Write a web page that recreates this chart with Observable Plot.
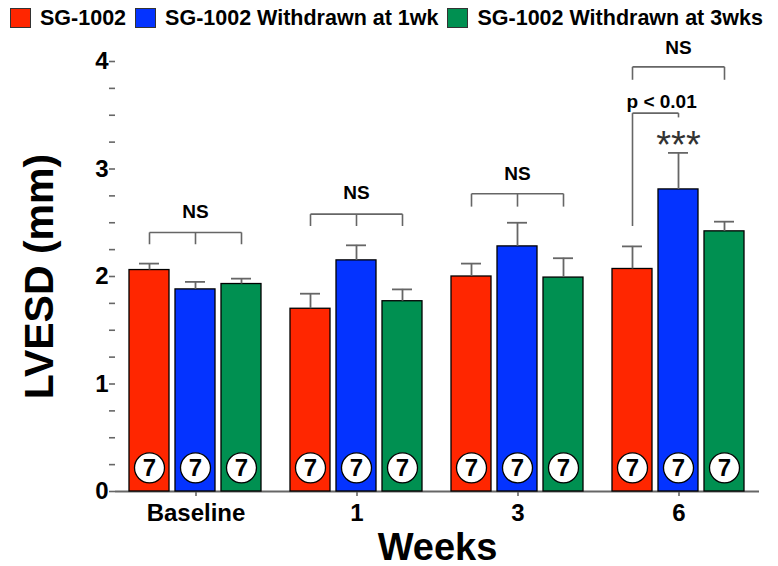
<!DOCTYPE html>
<html><head><meta charset="utf-8">
<script src="https://cdn.jsdelivr.net/npm/d3@7"></script>
<script src="https://cdn.jsdelivr.net/npm/@observablehq/plot@0.6"></script>
<style>
body{margin:0;background:#fff;font-family:"Liberation Sans",Arial,sans-serif;}
#legend{display:flex;align-items:center;height:36px;padding-left:10px;font-weight:bold;font-size:21.5px;color:#000;white-space:nowrap;}
#legend .item{display:flex;align-items:center;margin-right:9px;}
#legend .sw{width:21px;height:20px;border:1.5px solid #333;box-sizing:border-box;margin-right:9px;}
svg [aria-label="y-axis label"] text{font-size:41px;font-weight:bold;}
svg [aria-label="fx-axis label"] text{font-size:38px;font-weight:bold;}
</style></head><body>
<div id="legend"></div>
<div id="chart"></div>
<script>
// ---- data ----
const weeks = ["Baseline", "1", "3", "6"];
const series = ["SG-1002", "SG-1002 Withdrawn at 1wk", "SG-1002 Withdrawn at 3wks"];
const colors = ["#ff2600", "#0433ff", "#009051"];

const meanSG   = [2.06, 1.70, 2.00, 2.07];
const meanW1   = [1.88, 2.15, 2.28, 2.81];
const meanW3   = [1.93, 1.77, 1.99, 2.42];
const semSG    = [0.06, 0.14, 0.12, 0.21];
const semW1    = [0.07, 0.14, 0.22, 0.34];
const semW3    = [0.05, 0.11, 0.18, 0.09];
const nSG      = [7, 7, 7, 7];
const nW1      = [7, 7, 7, 7];
const nW3      = [7, 7, 7, 7];

// NS brackets (one per week)
const nsWeeks    = ["Baseline", "1", "3", "6"];
const nsLabels   = ["NS", "NS", "NS", "NS"];
const nsLevels   = [2.41, 2.58, 2.77, 3.95];
const nsLegEnds  = [2.30, 2.47, 2.65, 3.83];
const nsTextY    = [2.60, 2.78, 2.95, 4.13];
const nsLegs     = [[0, 1, 2], [0, 1, 2], [0, 1, 2], [0, 2]];

// p-value bracket (week 6, SG-1002 vs Withdrawn at 1wk)
const pWeek = "6";
const pLabel = "p < 0.01";
const pFrom = 0, pTo = 1;
const pLevel = 3.52;
const pLegEnds = [2.47, 3.48];
const pTextY = 3.62;
const starLabel = "***";
const starSeries = 1;
const starY = 3.22;

// ---- build tables ----
const means = [meanSG, meanW1, meanW3];
const sems = [semSG, semW1, semW3];
const ns = [nSG, nW1, nW3];
const rows = [];
series.forEach((s, si) => weeks.forEach((w, wi) => rows.push({
  week: w, series: s, mean: means[si][wi], upper: means[si][wi] + sems[si][wi], n: ns[si][wi]
})));

const segs = [];
const labels = [];
nsWeeks.forEach((w, i) => {
  const legs = nsLegs[i];
  segs.push({week: w, xa: series[legs[0]], xb: series[legs[legs.length - 1]], ya: nsLevels[i], yb: nsLevels[i]});
  legs.forEach(l => segs.push({week: w, xa: series[l], xb: series[l], ya: nsLegEnds[i], yb: nsLevels[i]}));
  labels.push({week: w, s: series[1], y: nsTextY[i], text: nsLabels[i]});
});
segs.push({week: pWeek, xa: series[pFrom], xb: series[pTo], ya: pLevel, yb: pLevel});
segs.push({week: pWeek, xa: series[pFrom], xb: series[pFrom], ya: pLegEnds[0], yb: pLevel});
segs.push({week: pWeek, xa: series[pTo], xb: series[pTo], ya: pLegEnds[1], yb: pLevel});

// legend
const lg = d3.select("#legend");
series.forEach((s, i) => {
  const it = lg.append("div").attr("class", "item");
  it.append("div").attr("class", "sw").style("background", colors[i]);
  it.append("span").text(s);
});

const badgeY = 0.22;
const grey = "#666";

const chart = Plot.plot({
  width: 778,
  height: 530,
  marginLeft: 113,
  marginRight: 18,
  marginTop: 25,
  marginBottom: 75,
  style: {fontFamily: "'Liberation Sans', Arial, sans-serif", fontWeight: "bold", color: "#000", background: "#fff"},
  fx: {domain: weeks, paddingInner: 0, paddingOuter: 0, label: null},
  x: {domain: series, paddingInner: 0.1277, paddingOuter: 0.2846, axis: null},
  y: {domain: [0, 4]},
  color: {domain: series, range: colors},
  marks: [
    Plot.ruleY([0], {stroke: grey, strokeWidth: 1.8}),
    Plot.axisY({
      ticks: d3.range(0, 4.001, 0.25),
      tickFormat: d => Number.isInteger(d) ? String(d) : "",
      tickSize: 6, tickPadding: 1, fontSize: 24, stroke: grey, strokeWidth: 1.6,
      line: true, label: "LVESD (mm)", labelAnchor: "center", labelArrow: "none", labelOffset: 92
    }),
    Plot.axisFx({
      anchor: "bottom", tickSize: 5, tickPadding: 7, fontSize: 24, stroke: grey, strokeWidth: 1.6,
      label: "Weeks", labelAnchor: "center", labelOffset: 68
    }),
    Plot.barY(rows, {fx: "week", x: "series", y: "mean", fill: "series", stroke: "#000", strokeWidth: 1.3}),
    Plot.ruleX(rows, {fx: "week", x: "series", y1: "mean", y2: "upper", stroke: grey, strokeWidth: 1.8}),
    Plot.tickY(rows, {fx: "week", x: "series", y: "upper", stroke: grey, strokeWidth: 1.8, insetLeft: 10, insetRight: 10}),
    Plot.dot(rows, {fx: "week", x: "series", y: () => badgeY, r: 15, fill: "white", stroke: "#000", strokeWidth: 1.3}),
    Plot.text(rows, {fx: "week", x: "series", y: () => badgeY, text: d => String(d.n), fontSize: 24, fontWeight: "bold", fill: "#000"}),
    Plot.link(segs, {fx: "week", x1: "xa", x2: "xb", y1: "ya", y2: "yb", stroke: grey, strokeWidth: 1.6}),
    Plot.text(labels, {fx: "week", x: "s", y: "y", text: "text", fontSize: 19, fontWeight: "bold", fill: "#000"}),
    Plot.text([pLabel], {fx: () => pWeek, x: () => series[pFrom], y: () => pTextY, text: d => d, textAnchor: "start", dx: -6, fontSize: 19, fontWeight: "bold", fill: "#000"}),
    Plot.text([starLabel], {fx: () => pWeek, x: () => series[starSeries], y: () => starY, text: d => d, fontSize: 38, fontWeight: "normal", fill: "#333"})
  ]
});
document.getElementById("chart").append(chart);
</script>
</body></html>
